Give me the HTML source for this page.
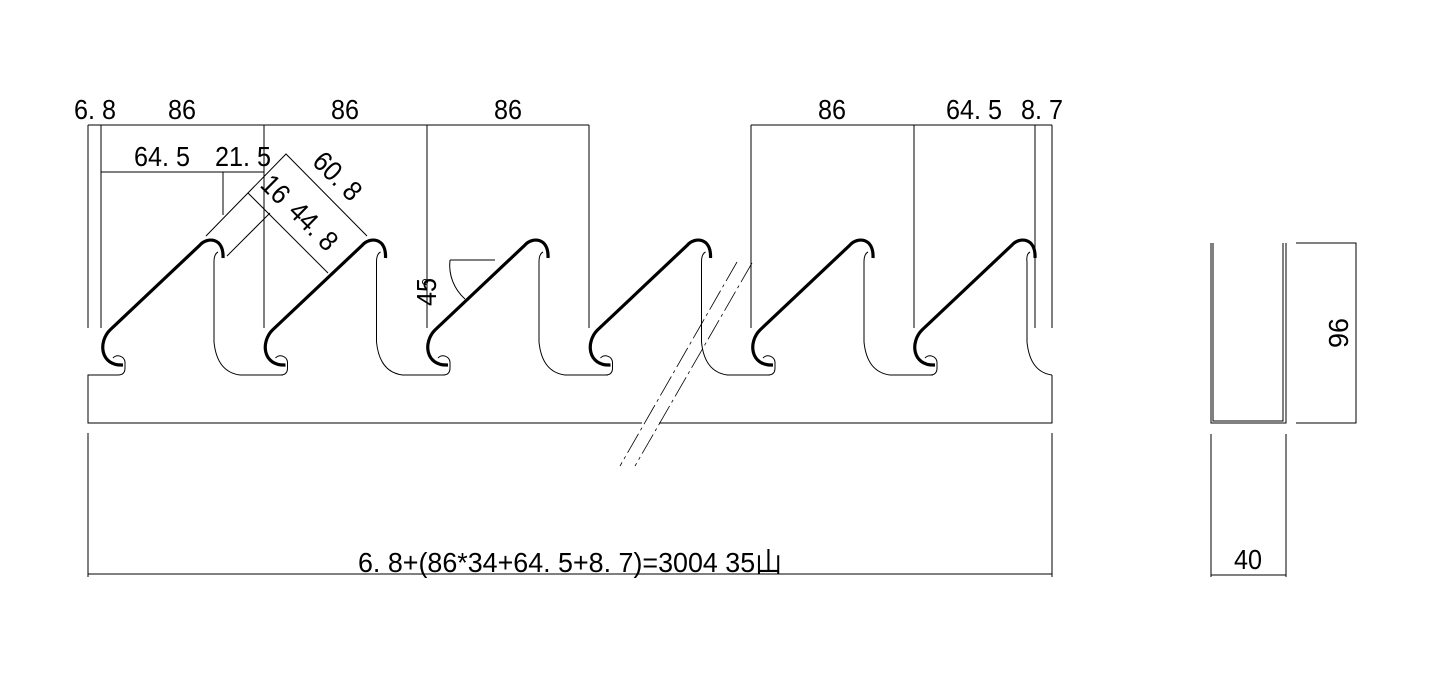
<!DOCTYPE html>
<html><head><meta charset="utf-8"><style>
html,body{margin:0;padding:0;background:#fff;}
svg{display:block;}
text{font-family:"Liberation Sans","Noto Sans CJK JP",sans-serif;font-size:28px;fill:#000;}
</style></head><body>
<svg width="1443" height="689" viewBox="0 0 1443 689" xmlns="http://www.w3.org/2000/svg">
<defs>
<g id="tooth">
  <path d="M123,365 C100,366 98,342 110,330 L200,245 C207,237 224,237 223,258" fill="none" stroke="#000" stroke-width="3.2" stroke-linecap="butt"/>
  <path d="M113,358 A7,7 0 0 1 125,362 L125,368 Q125,375 118,375" fill="none" stroke="#000" stroke-width="1"/>
  <path d="M218,252 Q214,254 214,262 L214,342 Q217,372 240,375" fill="none" stroke="#000" stroke-width="1"/>
</g>
</defs>
<g stroke="#000" stroke-width="1" fill="none">
  <path d="M118,375 L88,375 L88,423 L642,423"/>
  <path d="M659,423 L1052,423 L1052,375"/>
  <path d="M240,375 L283,375 M402,375 L445,375 M565,375 L608,375 M727,375 L770,375 M890,375 L933,375"/>
  <path d="M1027,262 L1027,342 Q1030,372 1052,375"/>
  <path d="M88,125 L589,125 M751,125 L1052,125"/>
  <path d="M88,125 V328 M101,125 V328 M264,125 V328 M427,125 V328 M589,125 V328 M751,125 V328 M914,125 V328 M1035,125 V328 M1052,125 V328"/>
  <path d="M101,172 L264,172 M223,172 L223,215"/>
  <path d="M206,236 L286,154 L367,236"/>
  <path d="M248,193 L328,273"/>
  <path d="M227,256 L270,213"/>
  <path d="M450,260 L495,260"/>
  <path d="M450,260 A45,45 0 0 0 465,299"/>
  <circle cx="425" cy="282" r="2.5"/>
  <path d="M88,433 V577 M1052,433 V577 M88,574 H1052"/>
  <path d="M1211,243 V423 H1286 V243 M1213,243 V421 H1283 V243"/>
  <path d="M1296,243 H1356 V423 H1296"/>
  <path d="M1211,434 V577 M1286,434 V577 M1211,575 H1286"/>
</g>
<g stroke="#000" stroke-width="0.8" stroke-dasharray="22,4,3,4" fill="none">
  <path d="M737,262 L620,466"/>
  <path d="M752,263 L635,466"/>
</g>
<use href="#tooth" x="0"/>
<use href="#tooth" x="162.5"/>
<use href="#tooth" x="325"/>
<use href="#tooth" x="487.5"/>
<use href="#tooth" x="650"/>
<path d="M935,365 C912,366 910,342 922,330 L1012,245 C1019,237 1036,237 1035,258" fill="none" stroke="#000" stroke-width="3.2"/>
<path d="M925,358 A7,7 0 0 1 937,362 L937,368 Q937,375 930,375" fill="none" stroke="#000" stroke-width="1"/>
<path d="M1030,252 Q1026,254 1027,262" fill="none" stroke="#000" stroke-width="1"/>
<text x="74" y="119" textLength="42" lengthAdjust="spacingAndGlyphs">6. 8</text>
<text x="168" y="119" textLength="28" lengthAdjust="spacingAndGlyphs">86</text>
<text x="331" y="119" textLength="28" lengthAdjust="spacingAndGlyphs">86</text>
<text x="494" y="119" textLength="28" lengthAdjust="spacingAndGlyphs">86</text>
<text x="818" y="119" textLength="28" lengthAdjust="spacingAndGlyphs">86</text>
<text x="946" y="119" textLength="56" lengthAdjust="spacingAndGlyphs">64. 5</text>
<text x="1021" y="119" textLength="42" lengthAdjust="spacingAndGlyphs">8. 7</text>
<text x="134" y="166" textLength="56" lengthAdjust="spacingAndGlyphs">64. 5</text>
<text x="215" y="166" textLength="56" lengthAdjust="spacingAndGlyphs">21. 5</text>
<text transform="translate(311,163) rotate(45)" textLength="56" lengthAdjust="spacingAndGlyphs">60. 8</text>
<text transform="translate(259,186) rotate(45)" textLength="28" lengthAdjust="spacingAndGlyphs">16</text>
<text transform="translate(287,213) rotate(45)" textLength="56" lengthAdjust="spacingAndGlyphs">44. 8</text>
<text transform="translate(436,306) rotate(-90)" textLength="28" lengthAdjust="spacingAndGlyphs">45</text>
<text x="358" y="572" textLength="424" lengthAdjust="spacingAndGlyphs">6. 8+(86*34+64. 5+8. 7)=3004 35山</text>
<text transform="translate(1348,348) rotate(-90)" textLength="30" lengthAdjust="spacingAndGlyphs">96</text>
<text x="1234" y="569" textLength="28" lengthAdjust="spacingAndGlyphs">40</text>
</svg>
</body></html>
